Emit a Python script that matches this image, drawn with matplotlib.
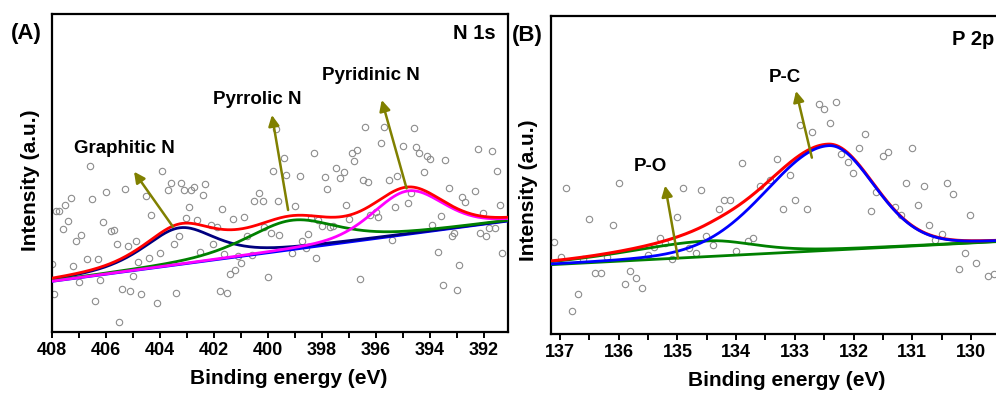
import numpy as np
import matplotlib
matplotlib.use("Agg")
import matplotlib.pyplot as plt
from matplotlib.ticker import MultipleLocator

plt.rcParams['font.family'] = ['Liberation Sans', 'DejaVu Sans']
plt.rcParams['font.weight'] = 'bold'

# ---------------- Panel A: N 1s ----------------
n1s_energy = [406.61, 403.91, 403.60, 403.21, 403.70, 403.09, 402.72, 402.84, 402.32, 402.39,
              405.31, 406.01, 406.50, 407.30, 407.51, 407.75, 407.85, 407.41, 407.61, 406.11,
              405.81, 405.69, 406.91, 407.12, 405.59, 405.20, 404.89, 404.32, 404.50, 402.91,
              401.70, 401.31, 400.90, 403.02, 402.62, 403.31, 403.49, 404.01, 404.40, 404.81,
              405.00, 406.21, 406.71, 406.31, 407.21, 407.00, 408.00, 407.93, 405.42, 405.10,
              404.71, 404.12, 403.41, 406.40, 405.51, 402.52, 402.03, 402.11, 401.90, 401.62,
              401.00, 401.12, 401.41, 401.21, 401.79, 401.51, 400.01, 400.60, 400.76, 400.14,
              399.90, 399.58, 399.80, 400.31, 400.51, 400.19, 399.63,
              399.68, 399.41, 399.31, 398.82, 399.00, 398.41, 398.14, 397.99, 397.71, 397.59,
              398.30, 397.90, 397.80, 397.49, 397.31, 397.18, 396.88, 396.71, 396.79, 396.40,
              395.70, 395.80, 394.99, 394.60, 394.50, 394.39, 394.12, 394.00, 393.42, 394.21,
              395.51, 395.20, 396.46, 396.30, 397.10, 397.01, 396.20, 396.00, 395.90, 395.30,
              394.81, 394.71, 393.30, 393.60, 393.91, 392.80, 392.68, 392.31, 392.22, 391.71,
              391.50, 391.38, 392.01, 392.12, 391.90, 391.60, 391.79, 393.17, 393.09, 393.70,
              392.91, 393.50, 393.00, 391.33, 396.59, 398.21, 398.50, 398.72, 398.60, 399.10,
              395.41]
n1s_counts = [498, 482, 448, 446, 426, 426, 436, 426, 443, 410,
              428, 419, 398, 403, 380, 363, 363, 334, 310, 330,
              304, 306, 292, 274, 265, 258, 274, 351, 407, 374,
              368, 339, 346, 341, 336, 288, 263, 238, 222, 209,
              169, 156, 219, 219, 199, 149, 203, 113, 128, 122,
              114, 87, 118, 92, 29, 239, 263, 321, 316, 234,
              208, 228, 174, 186, 124, 118, 165, 230, 288, 316,
              298, 291, 484, 416, 394, 394, 393,
              608, 522, 471, 467, 379, 341, 336, 318, 316, 318,
              536, 465, 428, 493, 463, 479, 536, 547, 513, 616,
              614, 567, 558, 611, 555, 537, 529, 518, 515, 480,
              456, 468, 455, 451, 382, 339, 350, 361, 344, 374,
              386, 416, 432, 349, 320, 404, 390, 424, 549, 544,
              482, 380, 356, 296, 289, 313, 313, 288, 297, 239,
              201, 141, 126, 237, 158, 222, 294, 274, 252, 236,
              276]

# linear background end points (energy, counts)
n1s_bg_energy = [408.0, 391.1]
n1s_bg_counts = [152, 333]

# fitted components: name, centre (eV), height, FWHM (eV), Lorentz fraction
n1s_names = ['Graphitic N', 'Pyrrolic N', 'Pyridinic N']
n1s_centres = [403.27, 399.12, 394.80]
n1s_heights = [110, 88, 130]
n1s_fwhm = [3.2, 4.0, 3.1]
n1s_eta = [0.6, 0.5, 0.3]
n1s_colors = ['#00007f', '#008000', '#ff00ff']

# arrows: (tail energy, tail counts, head energy, head counts)
n1s_arrow_tail_e = [403.52, 399.25, 394.86]
n1s_arrow_tail_c = [316, 366, 431]
n1s_arrow_head_e = [404.96, 399.85, 395.78]
n1s_arrow_head_c = [481, 651, 696]
n1s_label_e = [405.31, 400.41, 396.18]
n1s_label_c = [549, 696, 768]

# ---------------- Panel B: P 2p ----------------
p2p_energy = [137.10, 136.99, 136.90, 136.70, 136.80, 136.60, 136.50, 136.40, 136.30, 136.20,
              136.10, 136.00, 135.90, 135.80, 135.70, 135.60, 135.50, 135.40, 135.30, 135.21,
              135.10, 135.00, 134.90, 134.80, 134.69, 134.60, 134.51, 134.40, 134.30, 134.20,
              134.10, 134.00, 133.90, 133.80, 133.71, 133.60, 133.42,
              133.30, 133.09, 133.00, 133.20, 132.80, 132.91, 132.71, 132.59, 132.50, 132.30,
              132.40, 132.21, 132.10, 132.01, 131.90, 131.80, 131.61, 131.70, 131.50, 131.41,
              131.30, 131.20, 131.11, 131.00, 130.91, 130.80, 130.71, 130.61, 130.50, 130.41,
              130.31, 130.20, 130.11, 130.01, 129.91, 129.71, 129.61]
p2p_counts = [277, 230, 437, 120, 70, 225, 345, 184, 184, 230,
              327, 454, 149, 190, 167, 139, 237, 260, 287, 272,
              225, 351, 437, 259, 242, 431, 294, 268, 374, 402,
              402, 250, 512, 279, 287, 444, 461,
              524, 477, 402, 374, 374, 627, 605, 690, 674, 696,
              633, 541, 517, 484, 558, 599, 425, 369, 535, 546,
              380, 357, 454, 558, 386, 443, 327, 282, 300, 454,
              420, 195, 242, 357, 214, 174, 179]

p2p_bg_energy = [137.15, 129.57]
p2p_bg_counts = [208, 277]

# components: centre, height, FWHM low-energy side, FWHM high-energy side, Lorentz fraction
p2p_names = ['P-O', 'P-C']
p2p_centres = [134.48, 132.42]
p2p_heights = [47, 314]
p2p_fwhm_lo = [1.9, 1.8]
p2p_fwhm_hi = [3.2, 2.5]
p2p_eta = [0.4, 0.1]

p2p_arrow_tail_e = [134.99, 132.71]
p2p_arrow_tail_c = [227, 529]
p2p_arrow_head_e = [135.21, 132.98]
p2p_arrow_head_c = [445, 729]
p2p_label_e = [135.46, 133.17]
p2p_label_c = [502, 770]


def pvoigt(x, c, h, w_lo, w_hi, eta):
    w = np.where(x < c, w_lo, w_hi)
    d = (x - c) / w
    return h * (eta / (1 + 4 * d * d) + (1 - eta) * np.exp(-4 * np.log(2) * d * d))


OLIVE = '#808000'
W, H = 996, 393
fig = plt.figure(figsize=(W / 100, H / 100), dpi=100)

def px_axes(l, t, r, b):
    return fig.add_axes([l / W, 1 - b / H, (r - l) / W, (b - t) / H])

TICK_FS = 13
LABEL_FS = 15


def style(ax):
    for s in ax.spines.values():
        s.set_linewidth(1.6)
    ax.tick_params(axis='x', which='both', direction='out', width=1.4, labelsize=TICK_FS, pad=3)
    ax.tick_params(axis='x', which='major', length=4.5)
    ax.tick_params(axis='x', which='minor', length=4)
    ax.set_yticks([])
    for lab in ax.get_xticklabels():
        lab.set_fontweight('bold')
    ax.set_xlabel('Binding energy (eV)', fontsize=LABEL_FS, fontweight='bold', labelpad=5)
    ax.set_ylabel('Intensity (a.u.)', fontsize=LABEL_FS, fontweight='bold')


# ---- Panel A ----
axA = px_axes(52, 14, 508, 332)
axA.set_xlim(408, 391.1)
axA.set_ylim(0, 954)
axA.xaxis.set_major_locator(MultipleLocator(2))
axA.xaxis.set_minor_locator(MultipleLocator(1))
axA.plot(n1s_energy, n1s_counts, 'o', ms=4.6, mfc='none', mec='#8c8c8c', mew=0.8, zorder=1,
         clip_on=True)
xa = np.linspace(408, 391.1, 500)
bgA = np.interp(xa, n1s_bg_energy[::-1], n1s_bg_counts[::-1])
compsA = [pvoigt(xa, c, h, w, w, e) for c, h, w, e in zip(n1s_centres, n1s_heights, n1s_fwhm, n1s_eta)]
axA.plot(xa, bgA, color='#0000ff', lw=2.0, zorder=3)
axA.plot(xa, bgA + compsA[0], color=n1s_colors[0], lw=2.0, zorder=4)
axA.plot(xa, bgA + compsA[1], color=n1s_colors[1], lw=2.0, zorder=4)
axA.plot(xa, bgA + compsA[2], color=n1s_colors[2], lw=2.0, zorder=4)
axA.plot(xa, bgA + sum(compsA), color='#ff0000', lw=2.0, zorder=5)
for i, name in enumerate(n1s_names):
    axA.annotate('', xy=(n1s_arrow_head_e[i], n1s_arrow_head_c[i]),
                 xytext=(n1s_arrow_tail_e[i], n1s_arrow_tail_c[i]),
                 arrowprops=dict(arrowstyle='-|>', color=OLIVE, lw=1.8, mutation_scale=16,
                                 shrinkA=0, shrinkB=0), zorder=6)
    axA.text(n1s_label_e[i], n1s_label_c[i], name, ha='center', va='center',
             fontsize=13.5, fontweight='bold')
axA.text(391.55, 894, 'N 1s', ha='right', va='center', fontsize=14.5, fontweight='bold')
style(axA)
axA.xaxis.set_label_coords(0.518, -0.115)
axA.yaxis.set_label_coords(-0.026, 0.478)
fig.text(26 / W, 1 - 33 / H, '(A)', ha='center', va='center', fontsize=16, fontweight='bold')

# ---- Panel B ----
axB = px_axes(551, 16, 1006, 334)
x_right = 137 - (1006 - 560) / 58.71
axB.set_xlim(137 + (560 - 551) / 58.71, x_right)
axB.set_ylim(0, 954)
axB.spines['right'].set_visible(False)
axB.xaxis.set_major_locator(MultipleLocator(1))
axB.xaxis.set_minor_locator(MultipleLocator(0.5))
axB.plot(p2p_energy, p2p_counts, 'o', ms=4.6, mfc='none', mec='#8c8c8c', mew=0.8, zorder=1)
xb = np.linspace(137.16, x_right, 500)
slope = (p2p_bg_counts[1] - p2p_bg_counts[0]) / (p2p_bg_energy[1] - p2p_bg_energy[0])
bgB = p2p_bg_counts[0] + (xb - p2p_bg_energy[0]) * slope
compsB = [pvoigt(xb, c, h, wl, wh, e) for c, h, wl, wh, e in
          zip(p2p_centres, p2p_heights, p2p_fwhm_lo, p2p_fwhm_hi, p2p_eta)]
axB.plot(xb, bgB, color='#008000', lw=2.0, zorder=3)
axB.plot(xb, bgB + compsB[0], color='#008000', lw=2.0, zorder=3)
axB.plot(xb, bgB + compsB[0] + compsB[1], color='#ff0000', lw=2.2, zorder=4)
axB.plot(xb, bgB + compsB[1], color='#0000ff', lw=2.0, zorder=5)
for i, name in enumerate(p2p_names):
    axB.annotate('', xy=(p2p_arrow_head_e[i], p2p_arrow_head_c[i]),
                 xytext=(p2p_arrow_tail_e[i], p2p_arrow_tail_c[i]),
                 arrowprops=dict(arrowstyle='-|>', color=OLIVE, lw=1.8, mutation_scale=16,
                                 shrinkA=0, shrinkB=0), zorder=6)
    axB.text(p2p_label_e[i], p2p_label_c[i], name, ha='center', va='center',
             fontsize=13.5, fontweight='bold')
axB.text(130.33, 884, 'P 2p', ha='left', va='center', fontsize=14.5, fontweight='bold')
style(axB)
axB.xaxis.set_label_coords((786.5 - 551) / 455, -0.115)
axB.yaxis.set_label_coords(-0.0286, 0.453)
fig.text(527 / W, 1 - 35 / H, '(B)', ha='center', va='center', fontsize=16, fontweight='bold')

fig.savefig('out.png', dpi=100)
